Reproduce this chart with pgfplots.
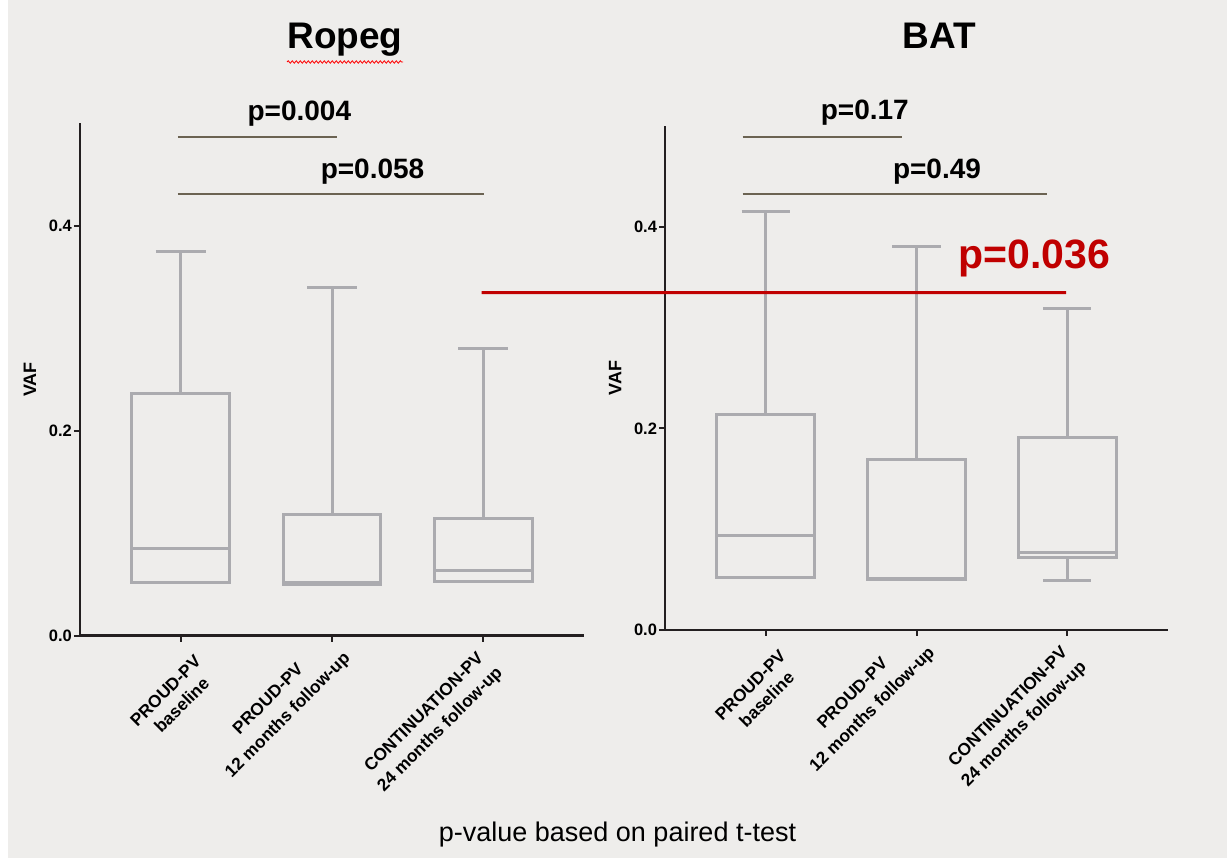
\documentclass[border=0pt]{standalone}
\usepackage{fontspec}
\setmainfont{Liberation Sans}
\usepackage{pgfplots}
\pgfplotsset{compat=1.18}
\usetikzlibrary{decorations.pathmorphing}
\definecolor{bg}{HTML}{EEEDEB}
\definecolor{boxgray}{HTML}{ABABAF}
\definecolor{sigline}{HTML}{6B6352}
\definecolor{pred}{HTML}{C00000}
\definecolor{axblack}{HTML}{231F20}

\pgfplotsset{
  vafaxis/.style={
    scale only axis, clip=false,
    xmin=0.333, xmax=3.667, ymin=0, ymax=0.5,
    axis x line*=bottom, axis y line*=left,
    axis line style={axblack, line width=2.5pt},
    tick style={axblack, line width=2pt},
    major tick length=6pt, tick align=outside,
    ytick={0,0.2,0.4}, yticklabels={0.0,0.2,0.4},
    yticklabel style={font=\fontsize{16.5pt}{18pt}\selectfont\bfseries, inner sep=2pt},
    xtick={1,2,3}, xticklabels={},
    ylabel={VAF},
    every axis y label/.style={at={(axis description cs:0,0.5)}, xshift=-50pt,
      rotate=90, anchor=center, font=\fontsize{18pt}{20pt}\selectfont\bfseries},
  },
  vafbox/.style={boxgray, line width=3pt, solid, mark=none, line join=miter, forget plot},
}
\tikzset{ptext/.style={font=\fontsize{28pt}{30pt}\selectfont\bfseries, anchor=base, inner sep=0pt}}

% box: left, right, centre, cap left, cap right, lower whisker, lower quartile, median, upper quartile | upper whisker
\newcommand\vafbox[9]{%
  \addplot[vafbox] coordinates {(#1,#7) (#2,#7) (#2,#9) (#1,#9) (#1,#7) (#2,#7)};
  \addplot[vafbox] coordinates {(#1,#8) (#2,#8)};
  \def\tmpc{#3}\def\tmpcl{#4}\def\tmpcr{#5}\def\tmplw{#6}\def\tmplq{#7}\def\tmpuq{#9}%
  \vafboxcont}
\newcommand\vafboxcont[1]{%
  \addplot[vafbox] coordinates {(\tmpc,\tmpuq) (\tmpc,#1)};
  \addplot[vafbox] coordinates {(\tmpcl,#1) (\tmpcr,#1)};
  \addplot[vafbox] coordinates {(\tmpc,\tmplq) (\tmpc,\tmplw)};
  \addplot[vafbox] coordinates {(\tmpcl,\tmplw) (\tmpcr,\tmplw)};}

% one line of a rotated category label: tick, dx, dy (below axis), text
\newcommand\tl[4]{\node[xshift=#2pt, yshift=-#3pt, rotate=45, anchor=north east,
  inner sep=0pt, font=\fontsize{17.3pt}{20pt}\selectfont\bfseries] at (axis cs:#1,0) {#4};}
\newcommand\catlabels{%
  \tl{1}{12.6}{18.3}{PROUD-PV}
  \tl{1}{20.7}{40}{baseline}
  \tl{2}{-36.4}{26}{PROUD-PV}
  \tl{2}{10}{14.4}{12 months follow-up}
  \tl{3}{-7.4}{15}{CONTINUATION-PV}
  \tl{3}{11}{29}{24 months follow-up}}

\begin{document}
\begin{tikzpicture}
\useasboundingbox (0,0) rectangle (1227pt,859pt);
\fill[white] (0,0) rectangle (1227pt,859pt);
\fill[bg] (8pt,1pt) rectangle (1227pt,859pt);

% ---------- Ropeg ----------
\begin{axis}[vafaxis, at={(80pt,223.3pt)}, anchor=south west,
  width=504pt, height=512.5pt]
\vafbox{0.6765}{1.3235}{1}{0.835}{1.165}{0.052}{0.052}{0.085}{0.236}{0.375}
\vafbox{1.6765}{2.3235}{2}{1.835}{2.165}{0.050}{0.050}{0.052}{0.118}{0.340}
\vafbox{2.6765}{3.3235}{3}{2.835}{3.165}{0.053}{0.053}{0.064}{0.114}{0.280}
\draw[sigline, line width=1.5pt] (axis cs:0.98,0.4866) -- (axis cs:2.036,0.4866);
\draw[sigline, line width=1.5pt] (axis cs:0.98,0.431) -- (axis cs:3.005,0.431);
\node[ptext] at (axis cs:1.784,0.503) {p=0.004};
\node[ptext] at (axis cs:2.268,0.446) {p=0.058};
\catlabels
\coordinate (RL) at (axis cs:2.99,0.3346);
\end{axis}

% ---------- BAT ----------
\begin{axis}[vafaxis, at={(665.2pt,229pt)}, anchor=south west,
  width=502.6pt, height=504pt]
\vafbox{0.6765}{1.3235}{1}{0.84}{1.16}{0.0516}{0.0516}{0.0935}{0.214}{0.4155}
\vafbox{1.6765}{2.3235}{2}{1.84}{2.16}{0.0496}{0.0496}{0.051}{0.169}{0.380}
\vafbox{2.6765}{3.3235}{3}{2.84}{3.16}{0.049}{0.072}{0.077}{0.1907}{0.319}
\draw[sigline, line width=1.5pt] (axis cs:0.846,0.489) -- (axis cs:1.903,0.489);
\draw[sigline, line width=1.5pt] (axis cs:0.846,0.4325) -- (axis cs:2.867,0.4325);
\node[ptext] at (axis cs:1.657,0.506) {p=0.17};
\node[ptext] at (axis cs:2.136,0.448) {p=0.49};
\node[ptext, text=pred, font=\fontsize{41pt}{44pt}\selectfont\bfseries] at (axis cs:2.78,0.359) {p=0.036};
\catlabels
\coordinate (RR) at (axis cs:2.993,0.3346);
\end{axis}

\draw[pred, line width=3pt] (RL) -- (RR);

% titles
\node[anchor=base, inner sep=0pt, font=\fontsize{37pt}{40pt}\selectfont\bfseries] at (345pt,810.7pt) {Ropeg};
\draw[red, line width=0.8pt, decorate, decoration={snake, segment length=4pt, amplitude=1.2pt}] (287pt,797pt) -- (403pt,797pt);
\node[anchor=base, inner sep=0pt, font=\fontsize{37pt}{40pt}\selectfont\bfseries] at (939pt,810.7pt) {BAT};

% footer
\node[anchor=base, inner sep=0pt, font=\fontsize{27pt}{30pt}\selectfont] at (617.5pt,17pt) {p-value based on paired t-test};
\end{tikzpicture}
\end{document}
